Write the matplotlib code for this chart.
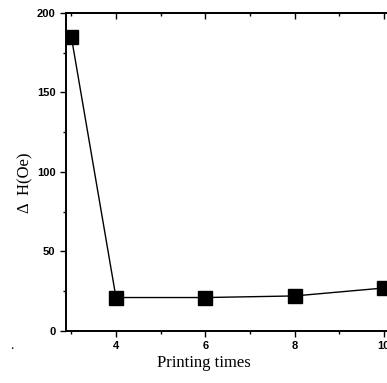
import matplotlib
matplotlib.use("Agg")
import matplotlib.pyplot as plt
from matplotlib.ticker import MultipleLocator

x = [3, 4, 6, 8, 10]
dH = [185, 21, 21, 22, 27]
xticks = [4, 6, 8, 10]
yticks = [0, 50, 100, 150, 200]

fig = plt.figure(figsize=(3.87, 3.83), dpi=100)
ax = fig.add_axes([0.1705, 0.136, 0.8295, 0.830])
ax.plot(x, dH, color="black", lw=1.0, marker="s", markersize=10,
        markerfacecolor="black", markeredgecolor="black")
ax.set_xlim(2.88, 10.07)
ax.set_ylim(0, 200)
ax.set_xticks(xticks)
ax.set_yticks(yticks)
ax.xaxis.set_minor_locator(MultipleLocator(1))
ax.yaxis.set_minor_locator(MultipleLocator(25))
ax.tick_params(which="both", direction="out", right=False,
               width=1.0, labelsize=8)
ax.tick_params(which="major", length=4)
ax.tick_params(which="minor", length=2)
ax.tick_params(axis="x", which="both", top=True)
ax2 = ax.secondary_xaxis("top")
ax2.set_xticks(xticks)
ax2.xaxis.set_minor_locator(MultipleLocator(1))
ax2.tick_params(which="both", direction="in", labeltop=False, width=1.0)
ax2.tick_params(which="major", length=4)
ax2.tick_params(which="minor", length=2)
ax2.spines["top"].set_linewidth(1.4)
ax.tick_params(axis="x", which="both", top=False)
for lab in ax.get_xticklabels() + ax.get_yticklabels():
    lab.set_family("Liberation Sans")
    lab.set_fontweight("bold")
for s in ["left", "bottom", "top"]:
    ax.spines[s].set_linewidth(1.4)
ax.spines["right"].set_visible(False)
ax.set_xlabel("Printing times", family="Liberation Serif", fontsize=12)
ax.set_ylabel("Δ  H(Oe)", family="Liberation Serif", fontsize=12)
ax.xaxis.set_label_coords(0.43, -0.075)
ax.yaxis.set_label_coords(-0.10, 0.465)
fig.text(0.026, 0.09, ".", fontsize=10, family="Liberation Serif")
fig.savefig("out.png", dpi=100)
